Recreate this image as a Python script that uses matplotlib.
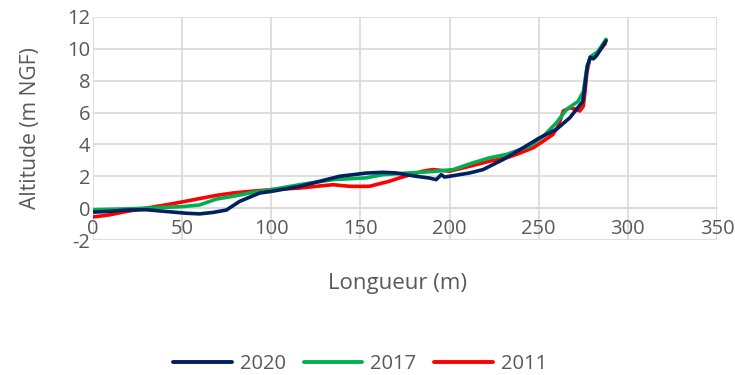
import matplotlib
matplotlib.use("Agg")
import matplotlib.pyplot as plt
from matplotlib.lines import Line2D

plt.rcParams['font.family'] = ['Open Sans', 'DejaVu Sans']
plt.rcParams['axes.unicode_minus'] = False

x_2020 = [0, 10, 18.7, 29.9, 41.1, 52.3, 59.8, 67.3, 74.8, 82.2, 93.5, 100, 116, 127, 138.3, 149.5,
          153, 162.5, 170, 181.2, 188.7, 192.5, 195.3, 197.2, 200, 211.3, 218.8, 230, 241.3,
          250.6, 260, 267.5, 274.7, 275.8, 277.3, 279, 280.7, 282.5, 287.8]
y_2020 = [-0.25, -0.2, -0.12, -0.1, -0.21, -0.32, -0.36, -0.27, -0.12, 0.42, 0.95, 1.05, 1.37, 1.68, 2.0, 2.15,
          2.2, 2.25, 2.21, 2.0, 1.89, 1.79, 2.1, 1.95, 2.0, 2.21, 2.42, 3.05, 3.79,
          4.42, 4.95, 5.68, 6.7, 7.6, 8.95, 9.47, 9.37, 9.58, 10.5]

x_2017 = [0, 18.7, 29.9, 50.5, 59.8, 69.2, 78.5, 87.9, 100, 115.9, 134.6, 153, 162.5, 175.6,
          190.6, 202, 213, 222.5, 231.9, 245, 252.5, 260, 265.7, 272, 275, 277, 279, 283, 287.8]
y_2017 = [-0.1, -0.05, 0.0, 0.1, 0.2, 0.57, 0.74, 0.95, 1.16, 1.47, 1.79, 1.9, 2.1, 2.2,
          2.3, 2.42, 2.84, 3.16, 3.37, 3.9, 4.5, 5.37, 6.2, 6.7, 7.3, 8.8, 9.5, 9.8, 10.6]

x_2011 = [0, 4, 9.3, 18.7, 29.9, 41.1, 50.5, 59.8, 69.2, 78.5, 87.9, 100, 115.9, 125.2, 134.6,
          144, 155, 166, 172, 185, 190.6, 200, 211.3, 222.5, 231.9, 237.5, 246.9, 252.5,
          258, 261, 263.8, 267.5, 271, 273, 275, 276, 277, 278.8, 282.5, 287.2]
y_2011 = [-0.55, -0.5, -0.42, -0.21, 0.0, 0.21, 0.4, 0.6, 0.8, 0.95, 1.05, 1.16, 1.26, 1.37, 1.47,
          1.37, 1.37, 1.68, 1.9, 2.32, 2.42, 2.32, 2.63, 2.95, 3.16, 3.37, 3.79, 4.2,
          4.63, 5.16, 6.1, 6.3, 6.2, 6.1, 6.4, 7.3, 8.5, 9.47, 9.7, 10.3]

series = [("2020", x_2020, y_2020, "#002060"),
          ("2017", x_2017, y_2017, "#00b050"),
          ("2011", x_2011, y_2011, "#ff0000")]

text_color = "#595959"
grid_color = "#d9d9d9"
fs = 14.5

fig = plt.figure(figsize=(7.35, 3.75), dpi=100)
ax = fig.add_axes([0.1265, 0.36, 0.849, 0.5947])

for name, xs, ys, col in reversed(series):
    ax.plot(xs, ys, color=col, lw=2.6, solid_capstyle='round', zorder=3)

ax.set_xlim(0, 350)
ax.set_ylim(-2, 12)
ax.set_xticks(range(0, 351, 50))
ax.set_yticks(range(-2, 13, 2))
ax.grid(True, color=grid_color, lw=1.2)
ax.set_axisbelow(True)
for s in ['top', 'right', 'left']:
    ax.spines[s].set_visible(False)
ax.spines['bottom'].set_position(('data', 0))
ax.spines['bottom'].set_color(grid_color)
ax.spines['bottom'].set_linewidth(1.2)
ax.tick_params(axis='y', length=0, labelsize=fs, colors=text_color, pad=2)
ax.tick_params(axis='x', length=0, labelsize=fs, colors=text_color, pad=8)

ax.set_ylabel("Altitude (m NGF)", fontsize=15.2, color=text_color, labelpad=19)
fig.text(0.541, 0.245, "Longueur (m)", ha='center', va='center', fontsize=16, color=text_color)

handles = [Line2D([0], [0], color=c, lw=2.8, solid_capstyle='round') for _, _, _, c in series]
fig.legend(handles, [s[0] for s in series], loc='center', bbox_to_anchor=(0.49, 0.03),
           ncol=3, frameon=False, fontsize=fs, labelcolor=text_color,
           handlelength=2.9, columnspacing=0.9, handletextpad=0.4)

fig.savefig("out.png", dpi=100)
